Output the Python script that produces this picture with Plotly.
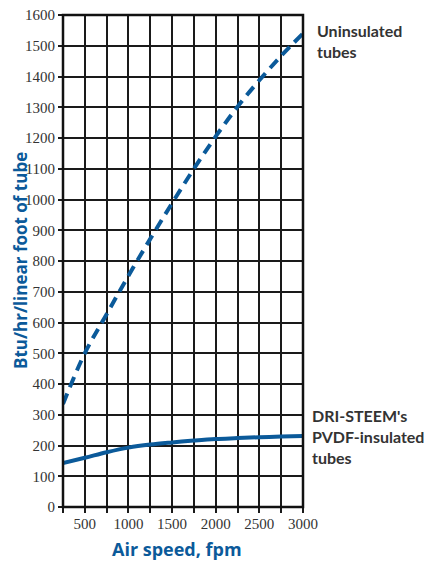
import plotly.graph_objects as go

air_speed = [250, 500, 750, 1000, 1250, 1500, 1750, 2000, 2250, 2500, 2750, 3000]
uninsulated = [335, 500, 627, 752, 872, 988, 1100, 1205, 1302, 1388, 1467, 1540]
insulated = [143, 160, 178, 193, 203, 210, 216, 221, 224, 227, 229, 231]
x_ticks = [500, 1000, 1500, 2000, 2500, 3000]
y_ticks = list(range(0, 1700, 100))

blue = "#0b5a9a"
txt = "#333333"
tickfont = dict(family="Liberation Sans Narrow", size=15, color=txt)
titlefont = dict(family="Open Sans, Lato, sans-serif", size=18, color=blue, weight="bold")
ytitlefont = dict(family="Open Sans, Lato, sans-serif", size=17, color=blue, weight="bold")
notefont = dict(family="Lato, Open Sans, sans-serif", size=16, color=txt, weight="bold")

fig = go.Figure()
fig.add_trace(go.Scatter(x=air_speed, y=uninsulated, mode="lines",
                         line=dict(color=blue, width=4, dash="11px,7px", shape="spline"), showlegend=False))
fig.add_trace(go.Scatter(x=air_speed, y=insulated, mode="lines",
                         line=dict(color=blue, width=4, shape="spline"), showlegend=False))

fig.update_layout(
    width=425, height=553,
    margin=dict(l=55, r=130, t=7, b=54, autoexpand=False),
    paper_bgcolor="white", plot_bgcolor="white",
    xaxis=dict(range=[250, 3000], tickvals=x_ticks, ticktext=[str(v) for v in x_ticks],
               showgrid=False, zeroline=False, showline=False, automargin=False,
               ticks="", tickfont=tickfont, ticklabelstandoff=6, ticklabeloverflow="allow",
               minor=dict(dtick=250, tick0=250, showgrid=True, gridcolor="#1a1a1a", gridwidth=1.7,
                          ticks="outside", ticklen=5, tickcolor="#1a1a1a", tickwidth=1.5)),
    yaxis=dict(range=[0, 1600], tickvals=y_ticks, showgrid=True, gridcolor="#1a1a1a", gridwidth=1.7,
               zeroline=False, showline=False, automargin=False, ticklabeloverflow="allow",
               ticks="outside", ticklen=4, tickcolor="#1a1a1a", tickwidth=1.5,
               tickfont=tickfont),
    shapes=[dict(type="rect", xref="paper", yref="paper", x0=0, x1=1, y0=0, y1=1,
                 line=dict(color="#111111", width=2.5), layer="above")],
    annotations=[
        dict(x=0.5, y=0, xref="paper", yref="paper", xanchor="center", yanchor="middle", yshift=-42, xshift=-6,
             text="Air speed, fpm", showarrow=False, font=titlefont),
        dict(x=0, y=0.5, xref="paper", yref="paper", xanchor="center", yanchor="middle", xshift=-43,
             text="Btu/hr/linear foot of tube", textangle=-90, showarrow=False, font=ytitlefont),
        dict(x=1, y=1540, xref="paper", yref="y", xanchor="left", yanchor="middle", xshift=12, yshift=-8,
             align="left", text="Uninsulated<br>tubes", showarrow=False, font=notefont),
        dict(x=1, y=228, xref="paper", yref="y", xanchor="left", yanchor="middle", xshift=7, yshift=0,
             align="left", text="DRI-STEEM's<br>PVDF-insulated<br>tubes", showarrow=False, font=notefont),
    ],
)
fig.write_html("out.html")
